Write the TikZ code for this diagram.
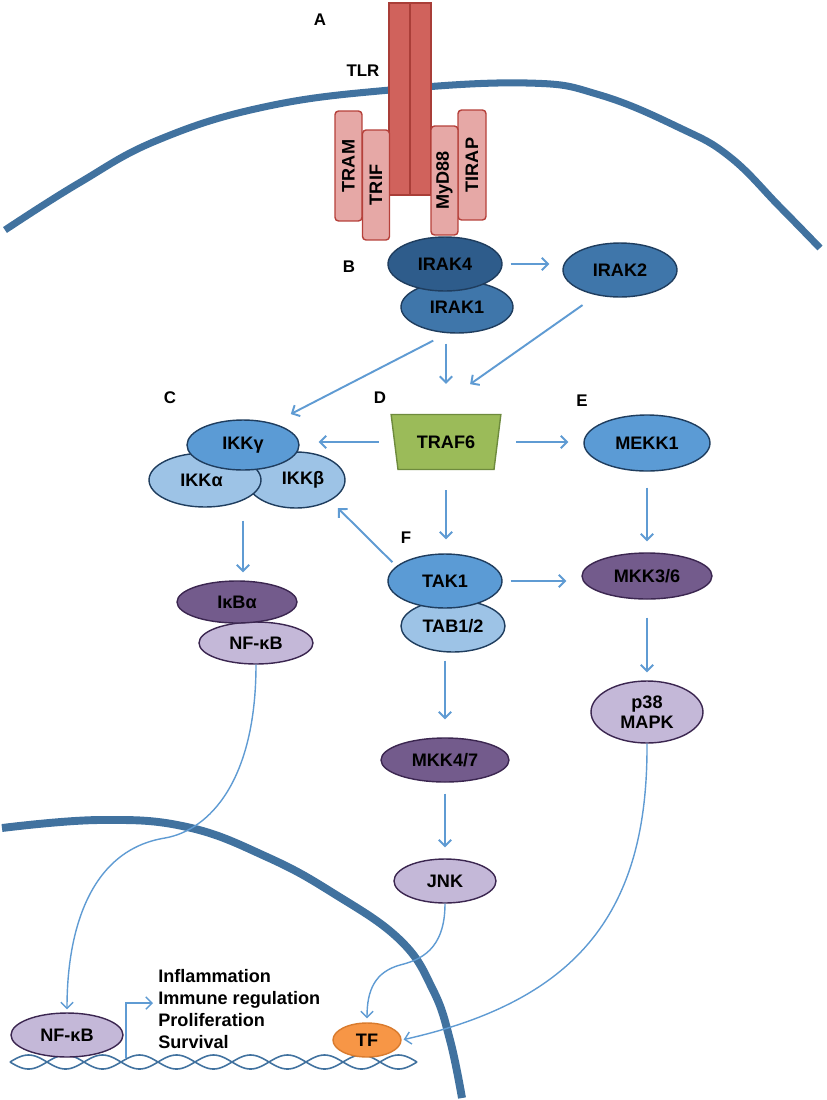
\documentclass[tikz,border=0pt]{standalone}
\usepackage{fontspec}
\setmainfont{Liberation Sans}
\usetikzlibrary{shapes.geometric,arrows.meta,calc}
\definecolor{memb}{HTML}{41729F}
\definecolor{arrc}{HTML}{5F9BD3}
\definecolor{bluebd}{HTML}{1F3D5E}
\definecolor{bdark}{HTML}{2E5C8B}
\definecolor{bmid}{HTML}{3F76AA}
\definecolor{bsky}{HTML}{5B9BD5}
\definecolor{blight}{HTML}{9DC3E6}
\definecolor{pdark}{HTML}{735B8C}
\definecolor{plight}{HTML}{C4B8D8}
\definecolor{pbd}{HTML}{3B2650}
\definecolor{gfill}{HTML}{9BBB59}
\definecolor{gbd}{HTML}{6E8B3D}
\definecolor{ofill}{HTML}{F79646}
\definecolor{obd}{HTML}{D97B2E}
\definecolor{tlrfill}{HTML}{D0625C}
\definecolor{tlrbd}{HTML}{A93E38}
\definecolor{adfill}{HTML}{E6A8A6}
\definecolor{adbd}{HTML}{B5403A}
\begin{document}
\begin{tikzpicture}[x=0.02cm,y=-0.02cm,
  font=\bfseries\fontsize{10.3}{12.5}\selectfont,
  mol/.style={ellipse, draw=bluebd, line width=0.8pt, inner sep=0pt, text=black},
  molp/.style={ellipse, draw=pbd, line width=0.8pt, inner sep=0pt, text=black},
  adapt/.style={draw=adbd, fill=adfill, line width=0.8pt, rounded corners=2pt, inner sep=0pt, rotate=90},
  tlrbox/.style={draw=tlrbd, fill=tlrfill, line width=0.8pt, inner sep=0pt},
  lab/.style={font=\bfseries\fontsize{9.6}{11}\selectfont, inner sep=0pt},
  arr/.style={draw=arrc, line width=1.1pt, -{Straight Barb[length=3.5pt,width=7pt]}},
  arrcurve/.style={draw=arrc, line width=0.8pt, -{Straight Barb[length=3.5pt,width=7pt]}},
  membrane/.style={draw=memb, line width=4pt},
  dna/.style={draw=memb, line width=0.9pt}
]
\useasboundingbox (0,0) rectangle (827,1100);

% cell membrane
\draw[membrane] plot[smooth, tension=0.7] coordinates {(5,230) (79,183) (158,140) (264,107) (390,90) (527,83) (600,95) (680,128) (730,157) (780,207) (820,248)};
% nuclear membrane
\draw[membrane, line width=4.5pt] plot[smooth, tension=0.7] coordinates {(2,828) (100,820) (187,827) (267,857) (333,893) (400,940) (433,990) (450,1040) (462,1098)};

% DNA
\draw[dna] plot[domain=10:417, samples=300, smooth] (\x, {1062+7*sin(4.865*(\x-10))});
\draw[dna] plot[domain=10:417, samples=300, smooth] (\x, {1062-7*sin(4.865*(\x-10))});

% receptor
\node[tlrbox, minimum width=0.42cm, minimum height=3.84cm] (tlrl) at (399.5,99) {};
\node[tlrbox, minimum width=0.42cm, minimum height=3.84cm] (tlrr) at (420.5,99) {};
\node[lab] (tlrlab) at (363,71) {TLR};

\node[adapt, minimum width=2.2cm, minimum height=0.54cm] (tram) at (348.5,166) {TRAM};
\node[adapt, minimum width=2.2cm, minimum height=0.54cm] (trif) at (376,185) {TRIF};
\node[adapt, minimum width=2.2cm, minimum height=0.56cm] (tirap) at (472,165) {TIRAP};
\node[adapt, minimum width=2.18cm, minimum height=0.54cm] (myd88) at (444.5,180.5) {MyD88};

% labels
\node[lab] (labA) at (320,20) {A};
\node[lab] (labB) at (349,267) {B};
\node[lab] (labC) at (170,398) {C};
\node[lab] (labD) at (380,398) {D};
\node[lab] (labE) at (582,401) {E};
\node[lab] (labF) at (406,538) {F};

% IRAK
\node[mol, fill=bmid, minimum width=2.24cm, minimum height=1.04cm] (irak1) at (457,307) {\raisebox{-3pt}{IRAK1}};
\node[mol, fill=bdark, minimum width=2.28cm, minimum height=1.08cm] (irak4) at (445,264) {IRAK4};
\node[mol, fill=bmid, minimum width=2.28cm, minimum height=1.08cm] (irak2) at (620,270) {IRAK2};

% IKK complex
\node[mol, fill=blight, minimum width=1.96cm, minimum height=1.12cm] (ikkb) at (296,480) {\hspace*{8pt}IKKβ};
\node[mol, fill=blight, minimum width=2.24cm, minimum height=1.08cm] (ikka) at (205,480) {\hspace*{-4pt}IKKα};
\node[mol, fill=bsky, minimum width=2.24cm, minimum height=1.0cm] (ikkg) at (243,445) {IKKγ};

% TRAF6
\node[trapezium, trapezium left angle=108, trapezium right angle=108, trapezium stretches=true,
      minimum width=2.2cm, minimum height=1.1cm, draw=gbd, fill=gfill, line width=0.8pt, inner sep=0pt] (traf6) at (446,442) {TRAF6};

% MEKK1
\node[mol, fill=bsky, minimum width=2.52cm, minimum height=1.12cm] (mekk1) at (647,443) {MEKK1};

% TAK1/TAB
\node[mol, fill=blight, minimum width=2.08cm, minimum height=1.04cm] (tab12) at (453,626) {\raisebox{-2pt}{TAB1/2}};
\node[mol, fill=bsky, minimum width=2.28cm, minimum height=1.08cm] (tak1) at (445,581) {TAK1};

% MAPK branch
\node[molp, fill=pdark, minimum width=2.6cm, minimum height=0.92cm] (mkk36) at (647,576) {MKK3/6};
\node[molp, fill=plight, minimum width=2.24cm, minimum height=1.24cm, align=center, font=\bfseries\fontsize{10.3}{11.5}\selectfont] (p38) at (647,712) {p38\\MAPK};

% IkB / NF-kB
\node[molp, fill=plight, minimum width=2.28cm, minimum height=0.84cm] (nfkb) at (256,643) {NF-κB};
\node[molp, fill=pdark, minimum width=2.4cm, minimum height=0.84cm] (ikba) at (237,602) {IκBα};

% JNK branch
\node[molp, fill=pdark, minimum width=2.56cm, minimum height=0.88cm] (mkk47) at (445,760) {MKK4/7};
\node[molp, fill=plight, minimum width=2.04cm, minimum height=0.88cm] (jnk) at (445,881) {JNK};

% nucleus
\node[molp, fill=plight, minimum width=2.24cm, minimum height=0.88cm] (nfkbn) at (67,1035) {NF-κB};
\node[ellipse, draw=obd, fill=ofill, line width=0.8pt, inner sep=0pt, minimum width=1.36cm, minimum height=0.68cm] (tf) at (367,1040) {TF};

\node[anchor=west, align=left, inner sep=0pt] (effects) at (158,1009) {Inflammation\\Immune regulation\\Proliferation\\Survival};

% arrows
\draw[arr, shorten <=0.16cm, shorten >=0.26cm] (irak4.east) -- (irak4.east -| irak2.west);
\draw[arr, shorten <=0.32cm, shorten >=0.4cm] (irak1.250) -- (ikkg.36);
\draw[arr, shorten <=0.2cm, shorten >=0.6cm] (irak1.south -| traf6.north) -- (traf6.north);
\draw[arr, shorten <=0.34cm, shorten >=1.03cm] (irak2.227) -- ($(traf6.north)+(-18,0)$);
\draw[arr, shorten <=0.3cm, shorten >=0.38cm] (traf6.west) -- (traf6.west -| ikkg.east);
\draw[arr, shorten <=0.36cm, shorten >=0.3cm] (traf6.east) -- (traf6.east -| mekk1.west);
\draw[arr, shorten <=0.4cm, shorten >=0.28cm] (traf6.south) -- (traf6.south |- tak1.north);
\draw[arr, shorten <=0.11cm, shorten >=0.21cm] (tak1.163) -- (ikkb.329);
\draw[arr, shorten <=0.16cm, shorten >=0.3cm] (tak1.east) -- (tak1.east -| mkk36.west);
\draw[arr, shorten <=0.32cm, shorten >=0.22cm] (mekk1.south) -- (mkk36.north);
\draw[arr, shorten <=0.36cm, shorten >=0.16cm] (mkk36.south) -- (p38.north);
\draw[arr, shorten <=0.26cm, shorten >=0.16cm] (ikkg |- ikka.south) -- (ikkg |- ikba.north);
\draw[arr, shorten <=0.16cm, shorten >=0.36cm] (tak1 |- tab12.south) -- (tak1 |- mkk47.north);
\draw[arr, shorten <=0.22cm, shorten >=0.22cm] (mkk47.south) -- (jnk.north);

\draw[arrcurve, shorten >=0.06cm] (nfkb.south) .. controls (256,780) and (210,830) .. (165,838) .. controls (90,850) and (67,930) .. (nfkbn.north);
\draw[arrcurve, shorten >=0.08cm] (jnk.south) .. controls (445,950) and (420,960) .. (400,965) .. controls (375,972) and (367,990) .. (tf.north);
\draw[arrcurve, shorten >=0.04cm] (p38.south) .. controls (648,910) and (580,1000) .. (tf.east);

\coordinate (tss) at (126,1058);
\coordinate (tsse) at (153,1003);
\draw[arrcurve] (tss) |- (tsse);
\end{tikzpicture}
\end{document}
